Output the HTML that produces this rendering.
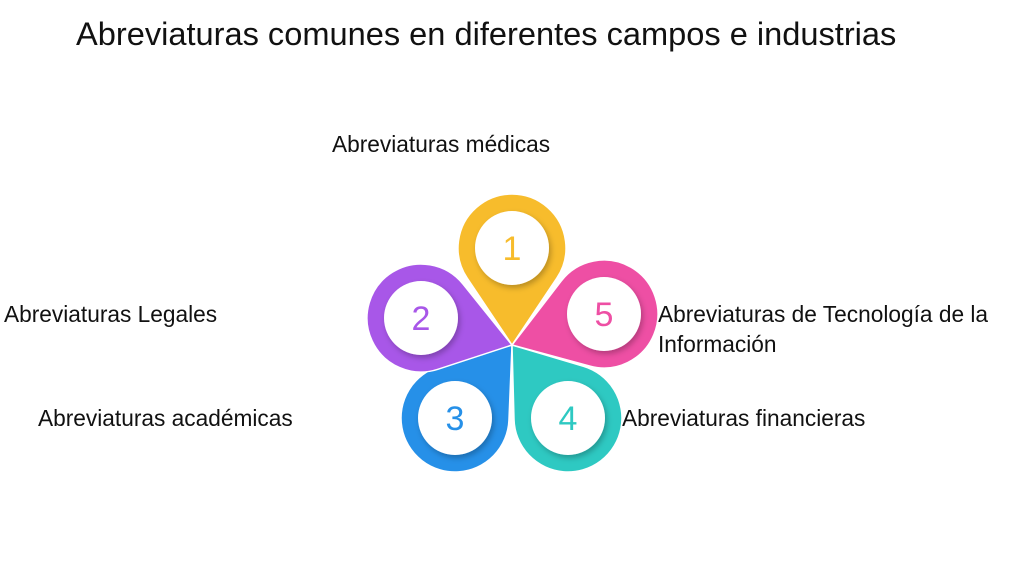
<!DOCTYPE html>
<html><head><meta charset="utf-8"><style>
body{margin:0;width:1024px;height:572px;background:#fff;position:relative;overflow:hidden;font-family:"Liberation Sans",sans-serif;color:#111}
.t{position:absolute;font-size:22.7px;line-height:30px;white-space:nowrap}
h1{position:absolute;left:76px;top:14px;margin:0;font-weight:normal;font-size:32.6px;line-height:40px}
</style></head><body>
<h1>Abreviaturas comunes en diferentes campos e industrias</h1>
<div class="t" style="left:332px;top:129px">Abreviaturas médicas</div>
<div class="t" style="left:4px;top:299px">Abreviaturas Legales</div>
<div class="t" style="left:658px;top:299px">Abreviaturas de Tecnología de la<br>Información</div>
<div class="t" style="left:38px;top:403px">Abreviaturas académicas</div>
<div class="t" style="left:622px;top:403px">Abreviaturas financieras</div>
<svg id="s" width="1024" height="572" style="position:absolute;left:0;top:0"></svg>
<script>
var P=[512,345],R=54,r=37;
var petals=[[455,418,'#2690e8','3'],[568,418,'#2ec9c2','4'],[421,318,'#a857e8','2'],[604,314,'#ee4fa4','5'],[512,248,'#f7bc2c','1']];
var h='<defs><filter id="f" x="-30%" y="-30%" width="160%" height="160%"><feDropShadow dx="2" dy="3" stdDeviation="3" flood-opacity="0.25"/></filter></defs>';
petals.forEach(function(p){
 var cx=p[0],cy=p[1],dx=P[0]-cx,dy=P[1]-cy,d=Math.hypot(dx,dy),a=Math.atan2(dy,dx),al=Math.acos(R/d);
 var x1=cx+R*Math.cos(a+al),y1=cy+R*Math.sin(a+al),x2=cx+R*Math.cos(a-al),y2=cy+R*Math.sin(a-al);
 h+='<path d="M'+P[0]+' '+P[1]+' L'+x1+' '+y1+' A'+R+' '+R+' 0 1 1 '+x2+' '+y2+' Z" fill="'+p[2]+'" stroke="#fff" stroke-width="1.5"/>';
 h+='<circle cx="'+cx+'" cy="'+cy+'" r="'+r+'" fill="#fff" filter="url(#f)"/>';
 h+='<text x="'+cx+'" y="'+(cy+12)+'" text-anchor="middle" font-family="Liberation Sans,sans-serif" font-size="34" fill="'+p[2]+'">'+p[3]+'</text>';
});
document.getElementById('s').innerHTML=h;
</script>
</body></html>
